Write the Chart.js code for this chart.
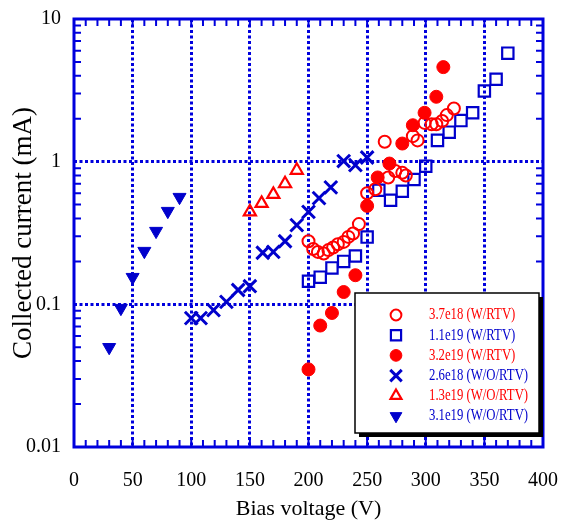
<!DOCTYPE html>
<html>
<head>
<meta charset="utf-8">
<script src="https://cdn.jsdelivr.net/npm/chart.js@4/dist/chart.umd.min.js"></script>
<style>
  html, body { margin: 0; padding: 0; background: #fff; }
  #ivChart { display: block; }
</style>
</head>
<body>
<canvas id="ivChart" width="568" height="524"></canvas>
<script>
// bias voltage (V) / collected current (mA)
const openCircleV = [200, 204, 208, 213, 217, 221, 225, 230, 234, 238, 243, 250, 257, 265, 268, 274, 280, 283, 289, 293, 299, 305, 309, 314, 318, 324];
const openCircleI = [0.277, 0.244, 0.233, 0.227, 0.24, 0.25, 0.264, 0.274, 0.297, 0.314, 0.365, 0.60, 0.64, 1.38, 0.775, 0.86, 0.835, 0.80, 1.51, 1.41, 1.87, 1.83, 1.83, 1.93, 2.12, 2.36];

const openSquareV = [200, 210, 220, 230, 240, 250, 260, 270, 280, 290, 300, 310, 320, 330, 340, 350, 360, 370];
const openSquareI = [0.145, 0.155, 0.18, 0.20, 0.218, 0.296, 0.63, 0.537, 0.62, 0.75, 0.93, 1.41, 1.61, 1.94, 2.2, 3.13, 3.78, 5.76];

const filledCircleV = [200, 210, 220, 230, 240, 250, 259, 269, 280, 289, 299, 309, 315];
const filledCircleI = [0.035, 0.071, 0.087, 0.122, 0.16, 0.49, 0.775, 0.97, 1.34, 1.80, 2.20, 2.85, 4.6];

const crossV = [100, 108, 119, 130, 140, 150, 161, 170, 180, 190, 200, 209, 219, 230, 240, 250];
const crossI = [0.080, 0.080, 0.091, 0.104, 0.126, 0.134, 0.23, 0.233, 0.277, 0.359, 0.445, 0.555, 0.66, 1.01, 0.945, 1.07];

const triUpV = [150, 160, 170, 180, 190];
const triUpI = [0.445, 0.51, 0.59, 0.70, 0.87];

const triDownV = [30, 40, 50, 60, 70, 80, 90];
const triDownI = [0.050, 0.094, 0.155, 0.236, 0.326, 0.45, 0.564];

const seriesLabels = ['3.7e18 (W/RTV)', '1.1e19 (W/RTV)', '3.2e19 (W/RTV)', '2.6e18 (W/O/RTV)', '1.3e19 (W/O/RTV)', '3.1e19 (W/O/RTV)'];

const xTickValues = [0, 50, 100, 150, 200, 250, 300, 350, 400];
const xTickLabels = ['0', '50', '100', '150', '200', '250', '300', '350', '400'];
const yTickValues = [0.01, 0.1, 1, 10];
const yTickLabels = ['0.01', '0.1', '1', '10'];

const RED = '#ff0000';
const BLUE = '#0000cc';
const GRID_BLUE = '#0000dd';
const NONE = 'rgba(0,0,0,0)';

Chart.defaults.font.family = "'Liberation Serif', 'Times New Roman', serif";
Chart.defaults.color = '#000';

function pts(xs, ys) {
  return xs.map((v, i) => ({ x: v, y: ys[i] }));
}

// minor tick positions for the inward tick marks
const xMinor = [];
for (let v = 10; v < 400; v += 10) xMinor.push(v);
const yMinor = [];
[0.01, 0.1, 1].forEach(d => { for (let k = 2; k <= 9; k++) yMinor.push(d * k); });

const frameTicks = {
  id: 'frameTicks',
  beforeDatasetsDraw(chart) {
    const { ctx, chartArea: a, scales: { x, y } } = chart;
    ctx.save();
    ctx.strokeStyle = GRID_BLUE;
    ctx.lineWidth = 2;
    ctx.beginPath();
    xMinor.forEach(v => {
      const px = x.getPixelForValue(v);
      ctx.moveTo(px, a.bottom); ctx.lineTo(px, a.bottom - 7);
      ctx.moveTo(px, a.top); ctx.lineTo(px, a.top + 7);
    });
    yMinor.forEach(v => {
      const py = y.getPixelForValue(v);
      ctx.moveTo(a.left, py); ctx.lineTo(a.left + 7, py);
      ctx.moveTo(a.right, py); ctx.lineTo(a.right - 7, py);
    });
    ctx.stroke();
    ctx.lineWidth = 3;
    ctx.strokeRect(a.left, a.top, a.right - a.left, a.bottom - a.top);
    ctx.restore();
  }
};

const boxLegend = {
  id: 'boxLegend',
  afterDraw(chart) {
    const ctx = chart.ctx;
    const bx = 355, by = 293, bw = 184, bh = 140;
    ctx.save();
    ctx.fillStyle = '#000';
    ctx.fillRect(bx + 4, by + 4, bw, bh);
    ctx.fillStyle = '#fff';
    ctx.fillRect(bx, by, bw, bh);
    ctx.strokeStyle = '#000';
    ctx.lineWidth = 1.5;
    ctx.strokeRect(bx, by, bw, bh);

    chart.data.datasets.forEach((ds, i) => {
      const ry = 315 + i * 20.2;
      ctx.fillStyle = ds.backgroundColor;
      ctx.strokeStyle = ds.borderColor;
      ctx.lineWidth = ds.borderWidth;
      Chart.helpers.drawPoint(ctx, {
        pointStyle: ds.pointStyle,
        rotation: ds.rotation || 0,
        radius: ds.pointRadius * 0.9,
        borderWidth: ds.borderWidth
      }, 396, ry);

      ctx.save();
      ctx.translate(429, ry);
      ctx.scale(0.75, 1);
      ctx.font = "17px 'Liberation Serif', serif";
      ctx.textBaseline = 'middle';
      ctx.textAlign = 'left';
      ctx.fillStyle = ds.borderColor;
      ctx.fillText(ds.label, 0, 0);
      ctx.restore();
    });
    ctx.restore();
  }
};

new Chart('ivChart', {
  type: 'scatter',
  data: {
    datasets: [
      { label: seriesLabels[0], data: pts(openCircleV, openCircleI), pointStyle: 'circle', pointRadius: 6,
        borderColor: RED, backgroundColor: NONE, borderWidth: 2 },
      { label: seriesLabels[1], data: pts(openSquareV, openSquareI), pointStyle: 'rect', pointRadius: 8,
        borderColor: BLUE, backgroundColor: NONE, borderWidth: 2.2 },
      { label: seriesLabels[2], data: pts(filledCircleV, filledCircleI), pointStyle: 'circle', pointRadius: 6.5,
        borderColor: RED, backgroundColor: RED, borderWidth: 1 },
      { label: seriesLabels[3], data: pts(crossV, crossI), pointStyle: 'crossRot', pointRadius: 9,
        borderColor: BLUE, backgroundColor: BLUE, borderWidth: 3 },
      { label: seriesLabels[4], data: pts(triUpV, triUpI), pointStyle: 'triangle', pointRadius: 7,
        borderColor: RED, backgroundColor: NONE, borderWidth: 2.2 },
      { label: seriesLabels[5], data: pts(triDownV, triDownI), pointStyle: 'triangle', rotation: 180, pointRadius: 7.5,
        borderColor: BLUE, backgroundColor: BLUE, borderWidth: 1 }
    ]
  },
  options: {
    responsive: false,
    animation: false,
    layout: { padding: { top: 19, right: 25, left: 0, bottom: 0 } },
    plugins: {
      legend: { display: false },
      tooltip: { enabled: false }
    },
    scales: {
      x: {
        type: 'linear',
        min: 0,
        max: 400,
        afterBuildTicks: s => { s.ticks = xTickValues.map(v => ({ value: v })); },
        afterFit: s => { s.height = 77; s.paddingLeft = 0; s.paddingRight = 0; },
        ticks: {
          padding: 22,
          font: { size: 20 },
          color: '#000',
          maxRotation: 0,
          callback: (v, i) => xTickLabels[i]
        },
        grid: {
          drawTicks: false,
          lineWidth: 3,
          color: c => (c.tick && (c.tick.value === 0 || c.tick.value === 400)) ? NONE : GRID_BLUE
        },
        border: { display: false, dash: [3, 2.5] },
        title: {
          display: true,
          text: 'Bias voltage (V)',
          font: { size: 22 },
          color: '#000',
          padding: { top: 0, bottom: 2 }
        }
      },
      y: {
        type: 'logarithmic',
        min: 0.01,
        max: 10,
        afterBuildTicks: s => { s.ticks = yTickValues.map(v => ({ value: v })); },
        afterFit: s => { s.width = 74; s.paddingTop = 0; s.paddingBottom = 0; },
        ticks: {
          padding: 13,
          font: { size: 20 },
          color: '#000',
          callback: (v, i) => yTickLabels[i]
        },
        grid: {
          drawTicks: false,
          lineWidth: 3,
          color: c => (c.tick && (c.tick.value === 0.01 || c.tick.value === 10)) ? NONE : GRID_BLUE
        },
        border: { display: false, dash: [3, 2.5] },
        title: {
          display: true,
          text: 'Collected current (mA)',
          font: { size: 27 },
          color: '#000',
          padding: { top: 8, bottom: 0 }
        }
      }
    }
  },
  plugins: [frameTicks, boxLegend]
});
</script>
</body>
</html>
